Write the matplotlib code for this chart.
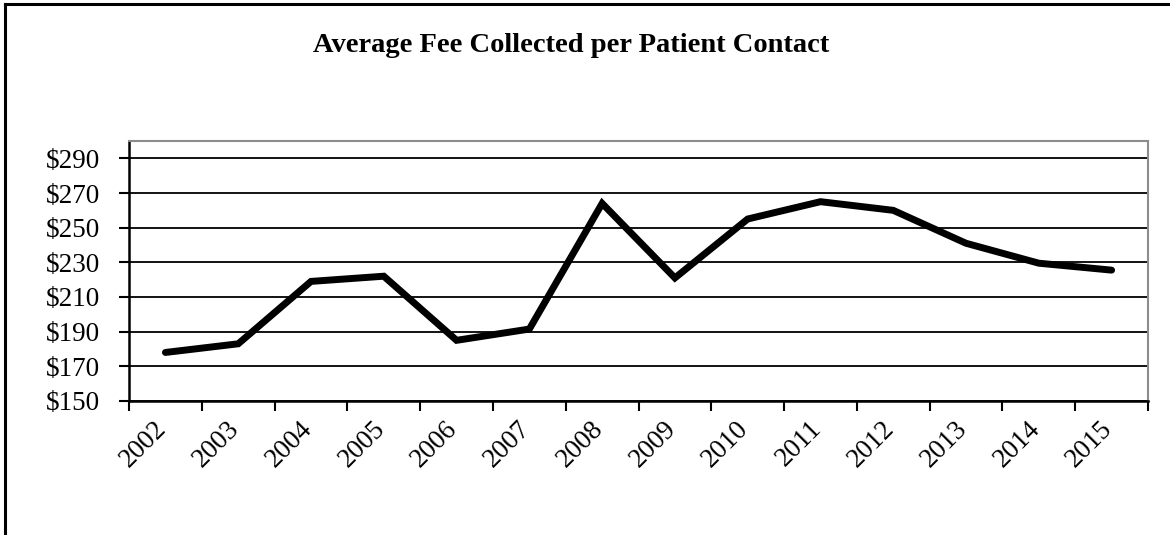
import matplotlib
matplotlib.use("Agg")
import matplotlib.pyplot as plt
import matplotlib.transforms as mtransforms
from matplotlib.lines import Line2D

years = ["2002", "2003", "2004", "2005", "2006", "2007", "2008",
         "2009", "2010", "2011", "2012", "2013", "2014", "2015"]
avg_fee = [178, 183, 219, 222, 185, 191.5, 264, 221, 255, 265, 260, 241, 229.5, 225.5]
y_ticks = [150, 170, 190, 210, 230, 250, 270, 290]

plt.rcParams["font.family"] = ["Liberation Serif", "DejaVu Serif"]

fig = plt.figure(figsize=(11.7, 5.35), dpi=100)
ax = fig.add_axes([0.1103, 0.2505, 0.8709, 0.4859])

x = list(range(len(years)))
ax.plot(x, avg_fee, color="black", linewidth=5.0, solid_joinstyle="miter",
        solid_capstyle="round", zorder=3)

ax.set_xlim(-0.5, len(years) - 0.5)
ax.set_ylim(150, 300)
ax.set_yticks(y_ticks)
ax.set_yticklabels([f"${v}" for v in y_ticks], fontsize=19.5)
ax.yaxis.grid(True, color="black", linewidth=1.3)
ax.set_axisbelow(True)

# category boundaries get the tick marks, centres get the labels
ax.set_xticks([i - 0.5 for i in range(len(years) + 1)])
ax.set_xticklabels([])
ax.set_xticks(x, minor=True)
ax.set_xticklabels(years, minor=True, rotation=45, ha="right", va="top", fontsize=19.5)
ax.tick_params(axis="x", which="minor", length=0, pad=11)
ax.tick_params(axis="x", which="major", length=7, width=1.5, direction="out")
ax.tick_params(axis="y", length=7, width=1.5, direction="out", pad=14)

offset = mtransforms.ScaledTranslation(6 / 100, 0, fig.dpi_scale_trans)
for lbl in ax.get_xticklabels(minor=True):
    lbl.set_transform(lbl.get_transform() + offset)

for side in ["left", "bottom"]:
    ax.spines[side].set_color("black")
    ax.spines[side].set_linewidth(1.8)
for side in ["top", "right"]:
    ax.spines[side].set_color("#8c8c8c")
    ax.spines[side].set_linewidth(1.5)

fig.text(0.488, 1 - 45 / 535, "Average Fee Collected per Patient Contact",
         ha="center", va="center", fontsize=20.5, fontweight="bold")

# outer chart frame (only top and left edges are visible in the crop)
fig.add_artist(Line2D([4.5 / 1170, 4.5 / 1170], [0, 1 - 4 / 535],
                      transform=fig.transFigure, color="black", linewidth=2.2))
fig.add_artist(Line2D([4.5 / 1170, 1], [1 - 4 / 535, 1 - 4 / 535],
                      transform=fig.transFigure, color="black", linewidth=2.2))

fig.savefig("out.png", dpi=100)
